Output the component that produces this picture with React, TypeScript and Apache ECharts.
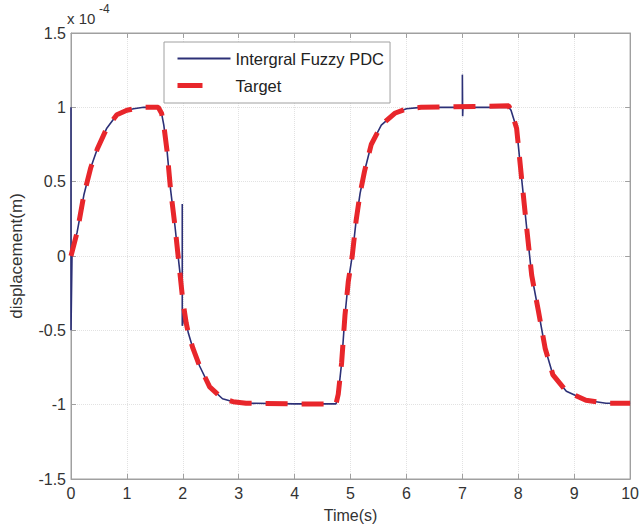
import React, { useEffect, useRef } from "react";
import * as echarts from "echarts";

// Controller output (values in units of 1e-4 m)
const pdcTime = [
  0, 0, 0, 0.02, 0.11, 0.23, 0.35, 0.47, 0.64, 0.82, 1.0, 1.12, 1.3, 1.56,
  1.62, 1.66, 1.72, 1.78, 1.86, 1.93, 1.99, 1.99, 1.99, 2.03, 2.1, 2.18, 2.3,
  2.48, 2.71, 2.9, 3.13, 4.0, 4.74, 4.78, 4.84, 4.9, 4.96, 5.03, 5.1, 5.17,
  5.25, 5.37, 5.55, 5.79, 6.0, 6.26, 7.0, 7.0, 7.005, 7.01, 7.83, 7.87, 7.97,
  8.06, 8.15, 8.24, 8.36, 8.48, 8.62, 8.86, 9.21, 9.57, 10,
];
const pdcValue = [
  0, 1.0, -0.5, 0.05, 0.16, 0.41, 0.59, 0.72, 0.86, 0.95, 0.98, 0.99, 1.0, 1.0,
  0.96, 0.88, 0.7, 0.45, 0.2, -0.05, -0.25, 0.35, -0.47, -0.4, -0.52, -0.62,
  -0.74, -0.88, -0.96, -0.98, -0.99, -0.995, -0.995, -0.93, -0.72, -0.4,
  -0.17, 0.0, 0.24, 0.42, 0.57, 0.75, 0.88, 0.96, 0.99, 1.0, 1.0, 1.22, 0.94,
  1.0, 1.0, 0.98, 0.86, 0.52, 0.19, -0.13, -0.37, -0.62, -0.8, -0.91, -0.97,
  -0.99, -0.99,
];

// Reference trajectory
const targetTime = [
  0, 0.11, 0.23, 0.35, 0.47, 0.64, 0.82, 1.0, 1.12, 1.3, 1.56, 1.62, 1.66,
  1.72, 1.78, 1.86, 1.93, 2.0, 2.06, 2.1, 2.18, 2.3, 2.48, 2.71, 2.9, 3.13,
  4.0, 4.74, 4.78, 4.84, 4.9, 4.96, 5.03, 5.1, 5.17, 5.25, 5.37, 5.55, 5.79,
  6.0, 6.26, 7.83, 7.87, 7.97, 8.06, 8.15, 8.24, 8.36, 8.48, 8.62, 8.86, 9.21,
  9.57, 10,
];
const targetValue = [
  0, 0.16, 0.41, 0.59, 0.72, 0.86, 0.95, 0.98, 0.99, 1.0, 1.0, 0.96, 0.88, 0.7,
  0.45, 0.2, -0.05, -0.3, -0.45, -0.52, -0.62, -0.74, -0.88, -0.96, -0.98,
  -0.99, -0.995, -0.995, -0.93, -0.72, -0.4, -0.17, 0.0, 0.24, 0.42, 0.57,
  0.75, 0.88, 0.96, 0.99, 1.0, 1.01, 0.98, 0.86, 0.52, 0.19, -0.13, -0.37,
  -0.62, -0.8, -0.91, -0.97, -0.99, -0.99,
];

const seriesNames = ["Intergral Fuzzy PDC", "Target"];
const xTicks = { min: 0, max: 10, interval: 1 };
const yTicks = { min: -1.5, max: 1.5, interval: 0.5 };

const FONT = "'Liberation Sans', Arial, sans-serif";

export default function App() {
  const ref = useRef<HTMLDivElement>(null);

  useEffect(() => {
    if (!ref.current) return;
    const chart = echarts.init(ref.current, undefined, { renderer: "svg" });
    const pdc = pdcTime.map((t, i) => [t, pdcValue[i]]);
    const target = targetTime.map((t, i) => [t, targetValue[i]]);
    const frame = "#a0a0a0";
    const labelColor = "#333";
    const blue = "#2c3077";
    const red = "#e8262b";

    chart.setOption({
      animation: false,
      backgroundColor: "#fff",
      textStyle: { fontFamily: FONT },
      grid: {
        left: 67,
        right: 11,
        top: 33,
        bottom: 50,
        show: true,
        borderColor: frame,
        borderWidth: 1,
        backgroundColor: "transparent",
      },
      legend: {
        orient: "vertical",
        left: 164,
        top: 42,
        padding: [8, 6, 9, 11],
        itemGap: 10,
        itemWidth: 53,
        itemHeight: 14,
        backgroundColor: "#fff",
        borderColor: frame,
        borderWidth: 1,
        borderRadius: 0,
        textStyle: { fontSize: 16.5, color: "#222", fontFamily: FONT },
        data: [
          {
            name: seriesNames[0],
            itemStyle: { opacity: 0 },
            lineStyle: { color: blue, width: 2 },
          },
          {
            name: seriesNames[1],
            itemStyle: { opacity: 0 },
            lineStyle: { color: red, width: 5, type: [25, 40] },
          },
        ],
      },
      xAxis: [
        {
          type: "value",
          min: xTicks.min,
          max: xTicks.max,
          interval: xTicks.interval,
          name: "Time(s)",
          nameLocation: "middle",
          nameGap: 28,
          nameTextStyle: { fontSize: 16, color: labelColor, fontFamily: FONT },
          axisLine: { show: true, onZero: false, lineStyle: { color: frame } },
          axisTick: { show: true, inside: true, length: 5, lineStyle: { color: frame } },
          axisLabel: { fontSize: 16, color: labelColor, margin: 6, fontFamily: FONT },
          splitLine: { show: true, lineStyle: { color: "#e2e2e2", type: "dotted" } },
        },
        {
          type: "value",
          position: "top",
          min: xTicks.min,
          max: xTicks.max,
          interval: xTicks.interval,
          axisLine: { show: true, onZero: false, lineStyle: { color: frame } },
          axisTick: { show: true, inside: true, length: 5, lineStyle: { color: frame } },
          axisLabel: { show: false },
          splitLine: { show: false },
        },
      ],
      yAxis: [
        {
          type: "value",
          min: yTicks.min,
          max: yTicks.max,
          interval: yTicks.interval,
          name: "displacement(m)",
          nameLocation: "middle",
          nameGap: 46,
          nameTextStyle: { fontSize: 17, color: labelColor, fontFamily: FONT },
          axisLine: { show: true, onZero: false, lineStyle: { color: frame } },
          axisTick: { show: true, inside: true, length: 5, lineStyle: { color: frame } },
          axisLabel: { fontSize: 16, color: labelColor, margin: 5, fontFamily: FONT },
          splitLine: { show: true, lineStyle: { color: "#e2e2e2", type: "dotted" } },
        },
        {
          type: "value",
          position: "right",
          min: yTicks.min,
          max: yTicks.max,
          interval: yTicks.interval,
          axisLine: { show: true, onZero: false, lineStyle: { color: frame } },
          axisTick: { show: true, inside: true, length: 5, lineStyle: { color: frame } },
          axisLabel: { show: false },
          splitLine: { show: false },
        },
      ],
      graphic: [
        {
          type: "text",
          left: 67,
          top: 11,
          style: { text: "x 10", fontSize: 15, fill: labelColor, fontFamily: FONT },
        },
        {
          type: "text",
          left: 99,
          top: 3,
          style: { text: "-4", fontSize: 12, fill: labelColor, fontFamily: FONT },
        },
      ],
      series: [
        {
          name: seriesNames[0],
          type: "line",
          data: pdc,
          xAxisIndex: 0,
          yAxisIndex: 0,
          showSymbol: false,
          symbol: "none",
          lineStyle: { color: blue, width: 1.6 },
          itemStyle: { color: blue },
          z: 2,
        },
        {
          name: seriesNames[1],
          type: "line",
          data: target,
          xAxisIndex: 0,
          yAxisIndex: 0,
          showSymbol: false,
          symbol: "none",
          lineStyle: { color: red, width: 5, type: [22, 14], cap: "butt" },
          itemStyle: { color: red },
          z: 3,
        },
      ],
    });
    return () => chart.dispose();
  }, []);

  return <div ref={ref} style={{ width: 642, height: 529, position: "absolute", left: 0, top: 0 }} />;
}
